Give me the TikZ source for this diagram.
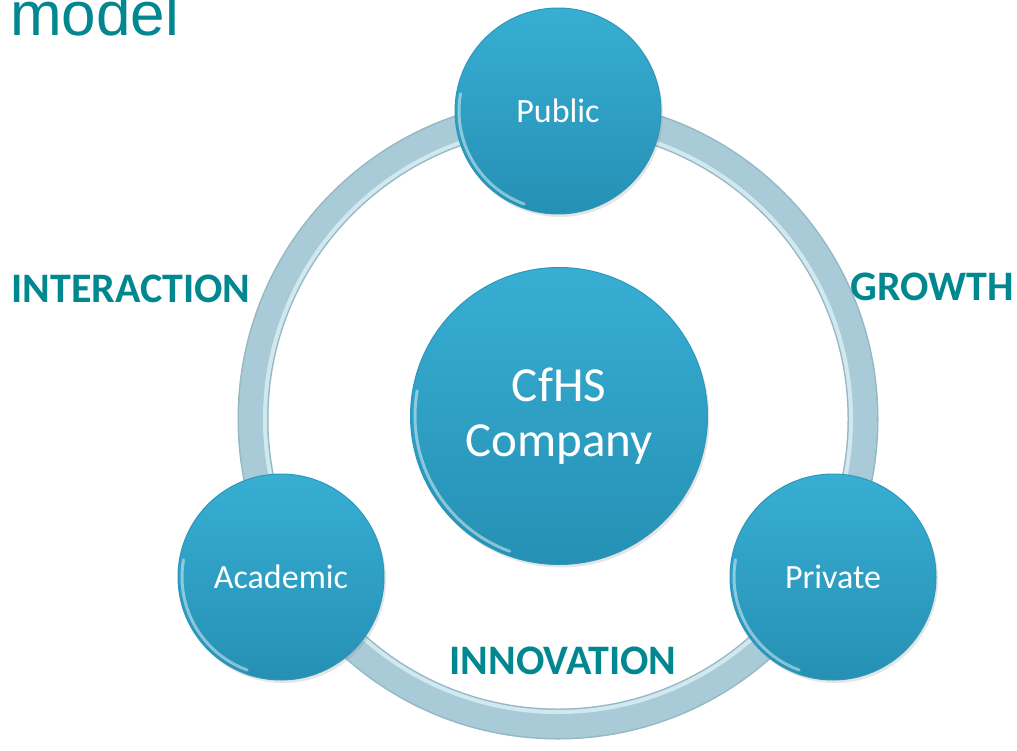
\documentclass[tikz,border=0pt]{standalone}
\usepackage{fontspec}
\setmainfont{Carlito}
\newfontfamily\arialf{Liberation Sans}
\usetikzlibrary{shadows}
\definecolor{labteal}{HTML}{00878F}
\definecolor{balltop}{HTML}{38AED3}
\definecolor{ballbot}{HTML}{2590B4}
\definecolor{ballrim}{HTML}{2C98BA}
\definecolor{ringc}{HTML}{A9CBD7}
\definecolor{ringd}{HTML}{94B8C5}
\definecolor{ringl}{HTML}{DDF0F6}
\tikzset{
  ball/.style={circle, inner sep=0pt, draw=ballrim, line width=1pt,
    top color=balltop, bottom color=ballbot, text=white, align=center,
    drop shadow={opacity=0.2, shadow xshift=2pt, shadow yshift=-3pt}},
  smallball/.style={ball, minimum size=206pt, font=\fontsize{34}{40}\selectfont},
  bigball/.style={ball, minimum size=297pt, font=\fontsize{49}{55}\selectfont},
  lab/.style={text=labteal, font=\bfseries\fontsize{42}{48}\selectfont},
  shine/.style={white, opacity=0.45, line width=3pt, line cap=round}
}
\begin{document}
\begin{tikzpicture}[x=1pt,y=-1pt]
\useasboundingbox (0,0) rectangle (1017,750);
\fill[white] (0,0) rectangle (1017,750);
\coordinate (c) at (558,419);
% ring
\draw[line width=31pt, ringd] (c) circle[radius=305];
\draw[line width=28pt, ringc] (c) circle[radius=305];
\draw[line width=4pt, ringl, opacity=0.8] (c) circle[radius=293];
% title
\node[anchor=base west, inner sep=0pt, text=labteal, font=\arialf\fontsize{62}{64}\selectfont] (title) at (10,35) {model};
% circles
\node[smallball] (pub) at (558,111) {Public};
\node[smallball] (aca) at (281,577) {Academic};
\node[smallball] (pri) at (833,577) {Private};
\node[bigball] (cen) at (559,416) {CfHS\\Company};
\foreach \n/\r in {pub/99, aca/99, pri/99, cen/144}
  \draw[shine] (\n.center) ++(110:\r) arc[start angle=110, end angle=190, radius=\r];
% labels
\node[lab] (inter) at (131,289) {INTERACTION};
\node[lab] (grow) at (932,287) {GROWTH};
\node[lab] (innov) at (563,661) {INNOVATION};
\end{tikzpicture}
\end{document}
